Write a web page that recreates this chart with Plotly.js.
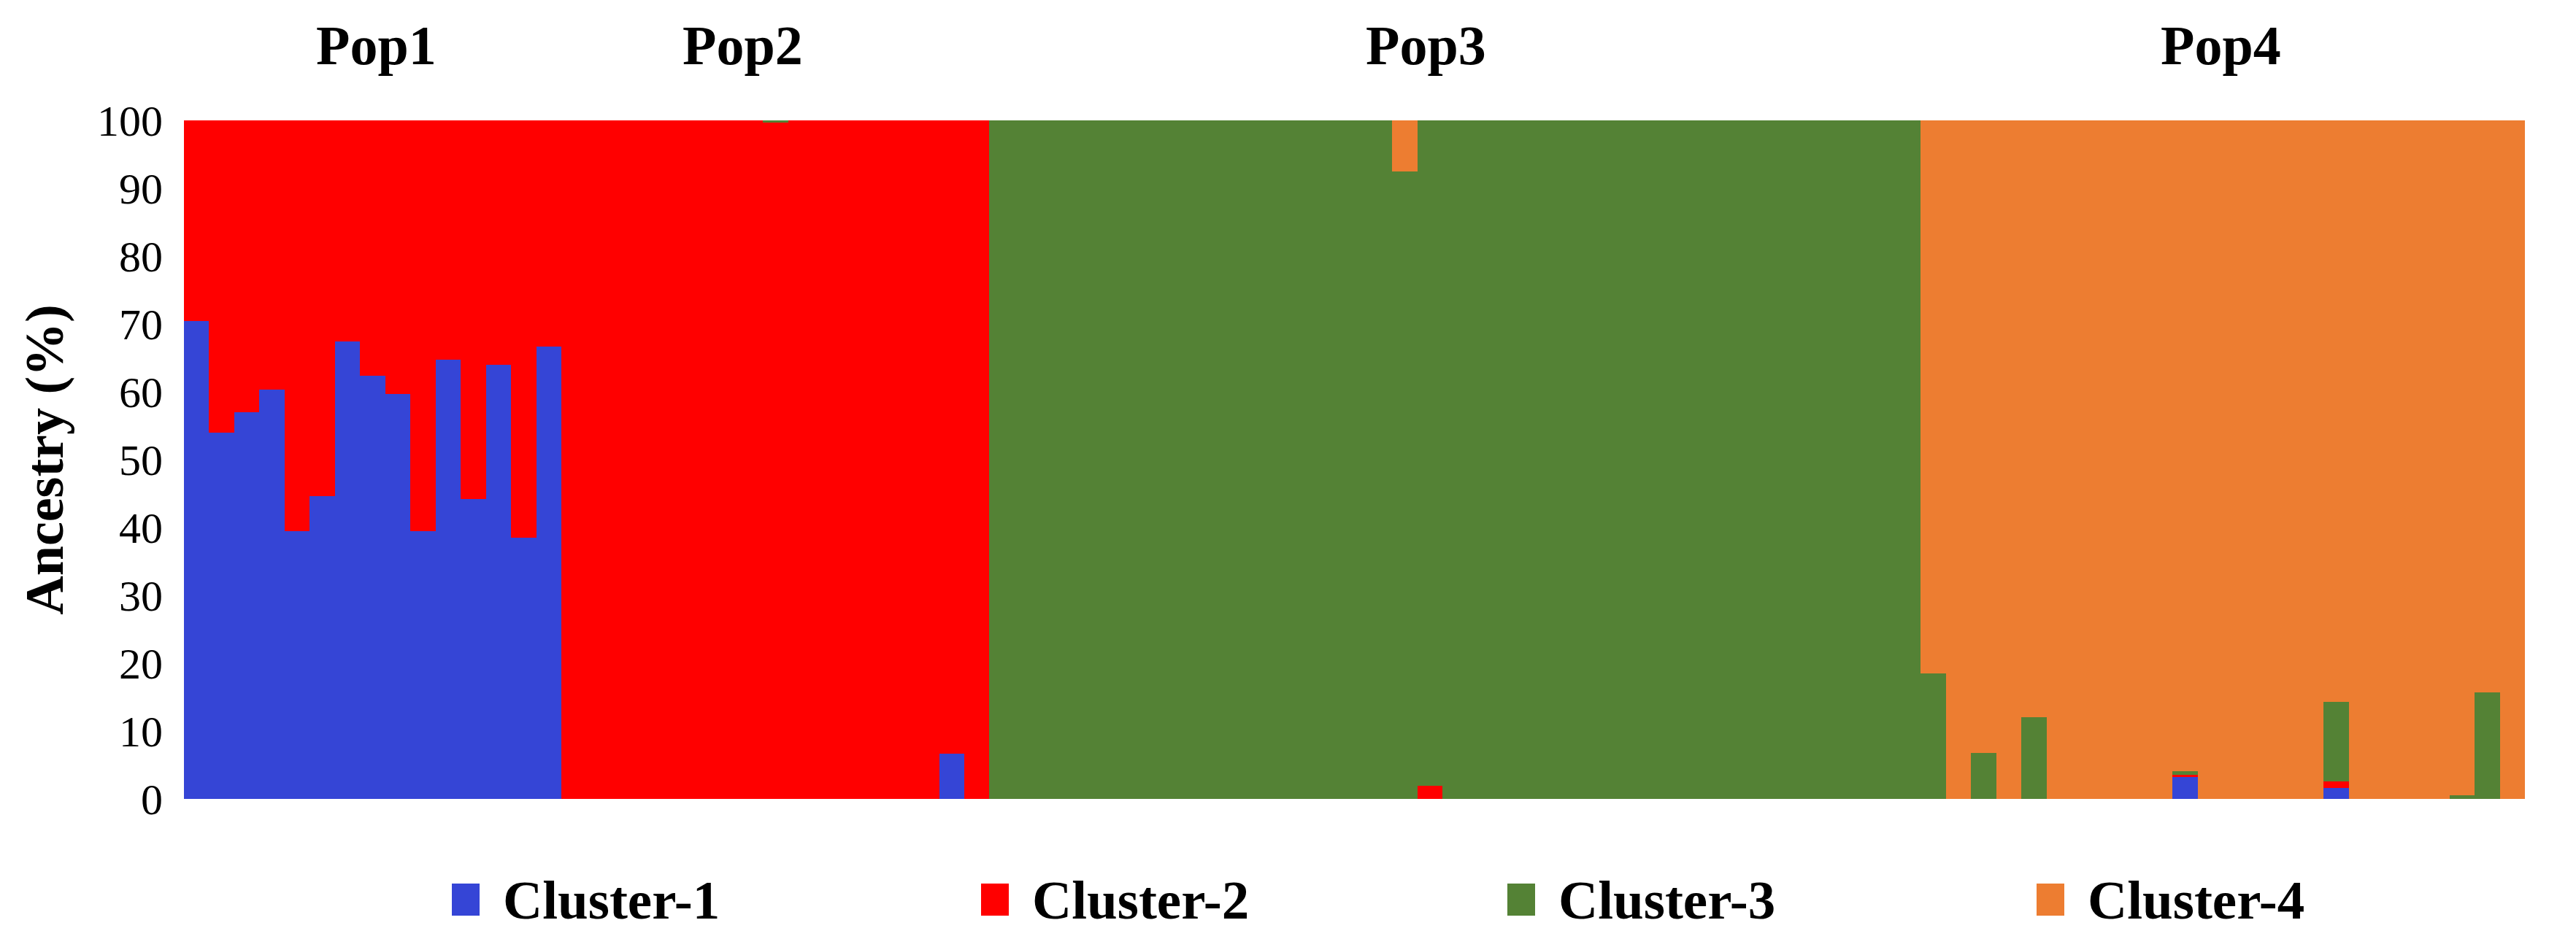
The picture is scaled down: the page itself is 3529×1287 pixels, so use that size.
<!DOCTYPE html>
<html>
<head>
<meta charset="utf-8">
<script src="https://cdn.plot.ly/plotly-3.0.1.min.js"></script>
<style>
html,body{margin:0;padding:0;background:#ffffff;}
#chart{width:3529px;height:1287px;}
</style>
</head>
<body>
<div id="chart"></div>
<script>
// ---------------- data ----------------
const populations = ["Pop1", "Pop2", "Pop3", "Pop4"];
const popSizes = [15, 17, 37, 24];
const clusterNames = ["Cluster-1", "Cluster-2", "Cluster-3", "Cluster-4"];
const yTickValues = [0, 10, 20, 30, 40, 50, 60, 70, 80, 90, 100];

// ancestry (%) per individual, Pop1 | Pop2 | Pop3 | Pop4
const cluster1 = [
  70.4, 54.0, 57.0, 60.3, 39.5, 44.6, 67.4, 62.4, 59.7, 39.5, 64.7, 44.2, 64.0, 38.5, 66.7,
  0, 0, 0, 0, 0, 0, 0, 0, 0, 0, 0, 0, 0, 0, 0, 6.7, 0,
  0, 0, 0, 0, 0, 0, 0, 0, 0, 0, 0, 0, 0, 0, 0, 0, 0, 0, 0, 0, 0, 0, 0, 0, 0, 0, 0, 0, 0, 0, 0, 0, 0, 0, 0, 0, 0,
  0, 0, 0, 0, 0, 0, 0, 0, 0, 0, 3.2, 0, 0, 0, 0, 0, 1.6, 0, 0, 0, 0, 0, 0, 0
];
const cluster2 = [
  29.6, 46.0, 43.0, 39.7, 60.5, 55.4, 32.6, 37.6, 40.3, 60.5, 35.3, 55.8, 36.0, 61.5, 33.3,
  100, 100, 100, 100, 100, 100, 100, 100, 99.7, 100, 100, 100, 100, 100, 100, 93.3, 100,
  0, 0, 0, 0, 0, 0, 0, 0, 0, 0, 0, 0, 0, 0, 0, 0, 0, 1.9, 0, 0, 0, 0, 0, 0, 0, 0, 0, 0, 0, 0, 0, 0, 0, 0, 0, 0, 0,
  0, 0, 0, 0, 0, 0, 0, 0, 0, 0, 0.3, 0, 0, 0, 0, 0, 1.0, 0, 0, 0, 0, 0, 0, 0
];
const cluster3 = [
  0, 0, 0, 0, 0, 0, 0, 0, 0, 0, 0, 0, 0, 0, 0,
  0, 0, 0, 0, 0, 0, 0, 0, 0.3, 0, 0, 0, 0, 0, 0, 0, 0,
  100, 100, 100, 100, 100, 100, 100, 100, 100, 100, 100, 100, 100, 100, 100, 100, 92.5, 98.1, 100, 100,
  100, 100, 100, 100, 100, 100, 100, 100, 100, 100, 100, 100, 100, 100, 100, 100, 100,
  18.5, 0, 6.8, 0, 12.0, 0, 0, 0, 0, 0, 0.6, 0, 0, 0, 0, 0, 11.7, 0, 0, 0, 0, 0.5, 15.7, 0
];
const cluster4 = [
  0, 0, 0, 0, 0, 0, 0, 0, 0, 0, 0, 0, 0, 0, 0,
  0, 0, 0, 0, 0, 0, 0, 0, 0, 0, 0, 0, 0, 0, 0, 0, 0,
  0, 0, 0, 0, 0, 0, 0, 0, 0, 0, 0, 0, 0, 0, 0, 0, 7.5, 0, 0, 0,
  0, 0, 0, 0, 0, 0, 0, 0, 0, 0, 0, 0, 0, 0, 0, 0, 0,
  81.5, 100, 93.2, 100, 88.0, 100, 100, 100, 100, 100, 95.9, 100, 100, 100, 100, 100, 85.7, 100, 100, 100, 100, 99.5, 84.3, 100
];

// ---------------- styling ----------------
const clusterColors = ["#3545D6", "#FF0000", "#548235", "#ED7D31"];
const FONT = "'Liberation Serif', 'Times New Roman', serif";

const nInd = popSizes.reduce((a, b) => a + b, 0);
const individuals = Array.from({length: nInd}, (_, i) => i);
const seriesValues = [cluster1, cluster2, cluster3, cluster4];

const traces = seriesValues.map((vals, k) => ({
  type: 'bar',
  name: clusterNames[k],
  x: individuals,
  y: vals,
  width: 1,
  marker: {color: clusterColors[k], line: {width: 0}},
  showlegend: false,
  hoverinfo: 'name+y'
}));

// plot-area geometry (px)
const W = 3529, H = 1287;
const M = {l: 252, r: 70, t: 165, b: 192};
const plotW = W - M.l - M.r, plotH = H - M.t - M.b;
const pxToPaperX = px => (px - M.l) / plotW;
const pxToPaperY = py => (H - M.b - py) / plotH;

// population labels above the plot
const popLabelX = [7.13, 21.69, 48.83, 80.42];
const annotations = populations.map((p, i) => ({
  text: p, xref: 'x', yref: 'paper', x: popLabelX[i], y: pxToPaperY(62),
  xanchor: 'center', yanchor: 'middle', showarrow: false,
  font: {family: FONT, size: 76, color: '#000', weight: 'bold'}
}));

// custom legend below the plot
const legendMarkerLeft = [619, 1344, 2065, 2790];
const legendCenterY = 1233;
const shapes = [];
clusterNames.forEach((name, k) => {
  shapes.push({
    type: 'rect', xref: 'paper', yref: 'paper',
    x0: pxToPaperX(legendMarkerLeft[k]), x1: pxToPaperX(legendMarkerLeft[k] + 38),
    y0: pxToPaperY(legendCenterY + 22), y1: pxToPaperY(legendCenterY - 22),
    fillcolor: clusterColors[k], line: {width: 0}
  });
  annotations.push({
    text: name, xref: 'paper', yref: 'paper',
    x: pxToPaperX(legendMarkerLeft[k] + 68), y: pxToPaperY(legendCenterY),
    xanchor: 'left', yanchor: 'middle', showarrow: false,
    font: {family: FONT, size: 75, color: '#000', weight: 'bold'}
  });
});

const layout = {
  width: W, height: H,
  margin: M,
  paper_bgcolor: '#ffffff', plot_bgcolor: '#ffffff',
  barmode: 'stack', bargap: 0,
  font: {family: FONT, color: '#000'},
  xaxis: {
    range: [-0.5, nInd - 0.5], showticklabels: false, ticks: '',
    showgrid: false, zeroline: false, showline: false, fixedrange: true
  },
  yaxis: {
    range: [0, 100], tickvals: yTickValues, ticktext: yTickValues.map(String),
    ticks: '', ticklabelstandoff: 28,
    tickfont: {family: FONT, size: 60, color: '#000'},
    showgrid: false, zeroline: false, showline: false, automargin: false,
    title: {text: 'Ancestry (%)', standoff: 22,
            font: {family: FONT, size: 74, color: '#000', weight: 'bold'}}
  },
  shapes: shapes,
  annotations: annotations,
  showlegend: false
};

Plotly.newPlot('chart', traces, layout, {displayModeBar: false, staticPlot: true});
</script>
</body>
</html>
